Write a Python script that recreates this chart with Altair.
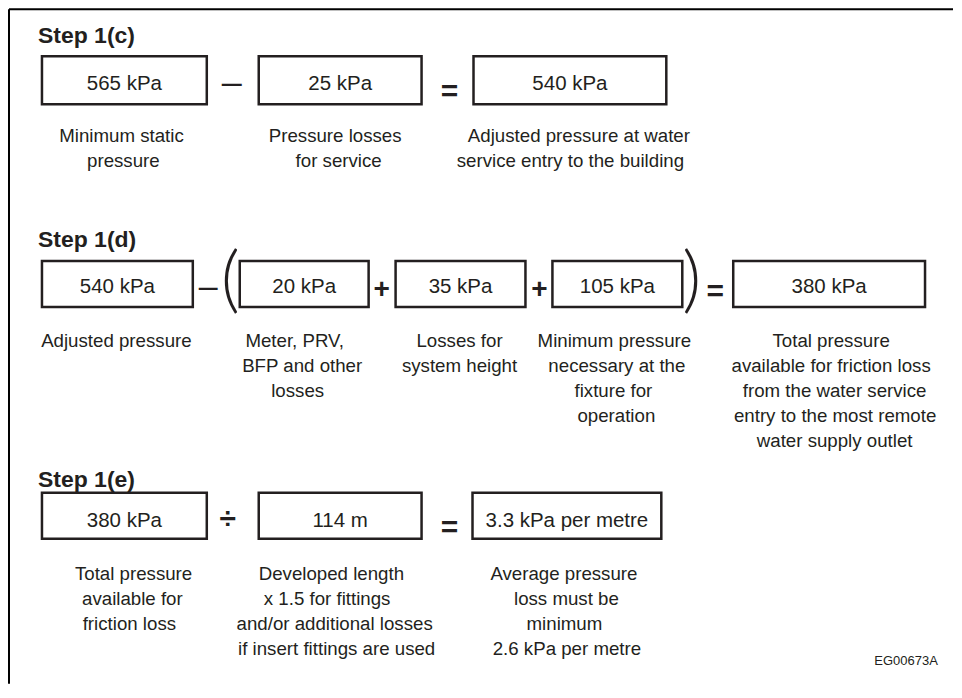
import altair as alt
import pandas as pd

# ---------------- content ----------------
step_titles = ["Step 1(c)", "Step 1(d)", "Step 1(e)"]

values_c = ["565 kPa", "25 kPa", "540 kPa"]
values_d = ["540 kPa", "20 kPa", "35 kPa", "105 kPa", "380 kPa"]
values_e = ["380 kPa", "114 m", "3.3 kPa per metre"]

operators_c = ["\u2013", "="]
operators_d = ["\u2013", "(", "+", "+", ")", "="]
operators_e = ["\u00f7", "="]

captions_c = [
    ["Minimum static", "pressure"],
    ["Pressure losses", "for service"],
    ["Adjusted pressure at water", "service entry to the building"],
]
captions_d = [
    ["Adjusted pressure"],
    ["Meter, PRV,", "BFP and other", "losses"],
    ["Losses for", "system height"],
    ["Minimum pressure", "necessary at the", "fixture for", "operation"],
    ["Total pressure", "available for friction loss", "from the water service",
     "entry to the most remote", "water supply outlet"],
]
captions_e = [
    ["Total pressure", "available for", "friction loss"],
    ["Developed length", "x 1.5 for fittings", "and/or additional losses",
     "if insert fittings are used"],
    ["Average pressure", "loss must be", "minimum", "2.6 kPa per metre"],
]
figure_code = "EG00673A"

# ---------------- layout (page pixels) ----------------
heading_x = 38
heading_base = [43, 247, 487]

box_y = [(56, 104), (261, 307), (493, 539)]
box_x = [
    [(42, 207), (259, 422), (474, 667)],
    [(42, 193), (240, 369), (396, 526), (553, 683), (734, 926)],
    [(42, 207), (259, 422), (473, 662)],
]
value_base = [90, 293, 527]

# operator: (centre x, baseline y, font size, weight, font)
SANS = "Liberation Sans"
PAREN = "Lato"
op_layout = [
    [(232, 94, 36, "normal", SANS), (450, 101, 30, "bold", SANS)],
    [(208.5, 297, 34, "normal", SANS), (230.5, 304, 74, "300", PAREN),
     (382, 298, 28, "bold", SANS), (540, 298, 28, "bold", SANS),
     (692.5, 304, 74, "300", PAREN), (716, 301, 30, "bold", SANS)],
    [(228, 528, 30, "bold", SANS), (450, 537, 30, "bold", SANS)],
]

caption_first_base = [142, 347, 580]
caption_line_gap = 25
caption_cx = [
    [[121.6, 123.5], [335.5, 339], [579.5, 571]],
    [[116.5], [295, 302.5, 298], [460, 460], [615, 617.5, 614, 617],
     [832, 832, 835.5, 836, 835.5]],
    [[133.7, 132.5, 129.5], [331.7, 327.5, 335, 337], [564.5, 567, 565, 567.5]],
]
code_pos = (907, 665)

INK = "#231f20"
FONT = SANS

values = [values_c, values_d, values_e]
operators = [operators_c, operators_d, operators_e]
captions = [captions_c, captions_d, captions_e]

# ---------------- tables ----------------
box_rows, value_rows, op_rows, cap_rows, head_rows = [], [], [], [], []
for r in range(3):
    head_rows.append({"x": heading_x, "y": heading_base[r], "t": step_titles[r]})
    y0, y1 = box_y[r]
    for i, (x0, x1) in enumerate(box_x[r]):
        box_rows.append({"x": x0, "x2": x1, "y": y0, "y2": y1})
        value_rows.append({"x": (x0 + x1) / 2, "y": value_base[r], "t": values[r][i]})
    for sym, (cx, by, fs, fw, ff) in zip(operators[r], op_layout[r]):
        op_rows.append({"x": cx, "y": by, "t": sym, "fs": fs, "fw": fw, "ff": ff})
    for i, lines in enumerate(captions[r]):
        for j, line in enumerate(lines):
            cap_rows.append({"x": caption_cx[r][i][j],
                             "y": caption_first_base[r] + j * caption_line_gap,
                             "t": line})

W, H = 946, 676

xs = alt.Scale(domain=[8, 8 + W], nice=False, zero=False)
ys = alt.Scale(domain=[8, 8 + H], nice=False, zero=False, reverse=True)
X = alt.X("x:Q", scale=xs, axis=None)
Y = alt.Y("y:Q", scale=ys, axis=None)

# outer frame: only its top and left edges fall inside the picture
frame_top = alt.Chart(pd.DataFrame([{"x": 9, "x2": 8 + W, "y": 9}])).mark_rule(
    color="black", strokeWidth=2
).encode(x=X, x2="x2:Q", y=Y)
frame_left = alt.Chart(pd.DataFrame([{"x": 9, "y": 9, "y2": 8 + H}])).mark_rule(
    color="black", strokeWidth=2
).encode(x=X, y=Y, y2="y2:Q")

boxes = alt.Chart(pd.DataFrame(box_rows)).mark_rect(
    fill="white", stroke=INK, strokeWidth=2.5
).encode(x=X, x2="x2:Q", y=Y, y2="y2:Q")

heads = alt.Chart(pd.DataFrame(head_rows)).mark_text(
    font=FONT, fontSize=23, fontWeight="bold", align="left",
    baseline="alphabetic", color=INK
).encode(x=X, y=Y, text="t:N")

vals = alt.Chart(pd.DataFrame(value_rows)).mark_text(
    font=FONT, fontSize=20.5, align="center", baseline="alphabetic", color=INK
).encode(x=X, y=Y, text="t:N")

op_df = pd.DataFrame(op_rows)
op_layers = []
for (fw, ff), sub in op_df.groupby(["fw", "ff"]):
    op_layers.append(
        alt.Chart(sub).mark_text(
            font=ff, fontWeight=int(fw) if fw.isdigit() else fw,
            align="center", baseline="alphabetic", color=INK
        ).encode(x=X, y=Y, text="t:N", size=alt.Size("fs:Q", scale=None, legend=None))
    )

caps = alt.Chart(pd.DataFrame(cap_rows)).mark_text(
    font=FONT, fontSize=18.7, align="center", baseline="alphabetic", color=INK
).encode(x=X, y=Y, text="t:N")

code = alt.Chart(pd.DataFrame([{"x": code_pos[0], "y": code_pos[1], "t": figure_code}])).mark_text(
    font=FONT, fontSize=13, align="center", baseline="alphabetic", color=INK
).encode(x=X, y=Y, text="t:N")

chart = alt.layer(frame_top, frame_left, boxes, heads, vals, *op_layers, caps, code).properties(
    width=W, height=H, padding=0, background="white"
).configure_view(strokeWidth=0, stroke="transparent")

chart.save("out.html", embed_options={"renderer": "svg", "actions": False})
